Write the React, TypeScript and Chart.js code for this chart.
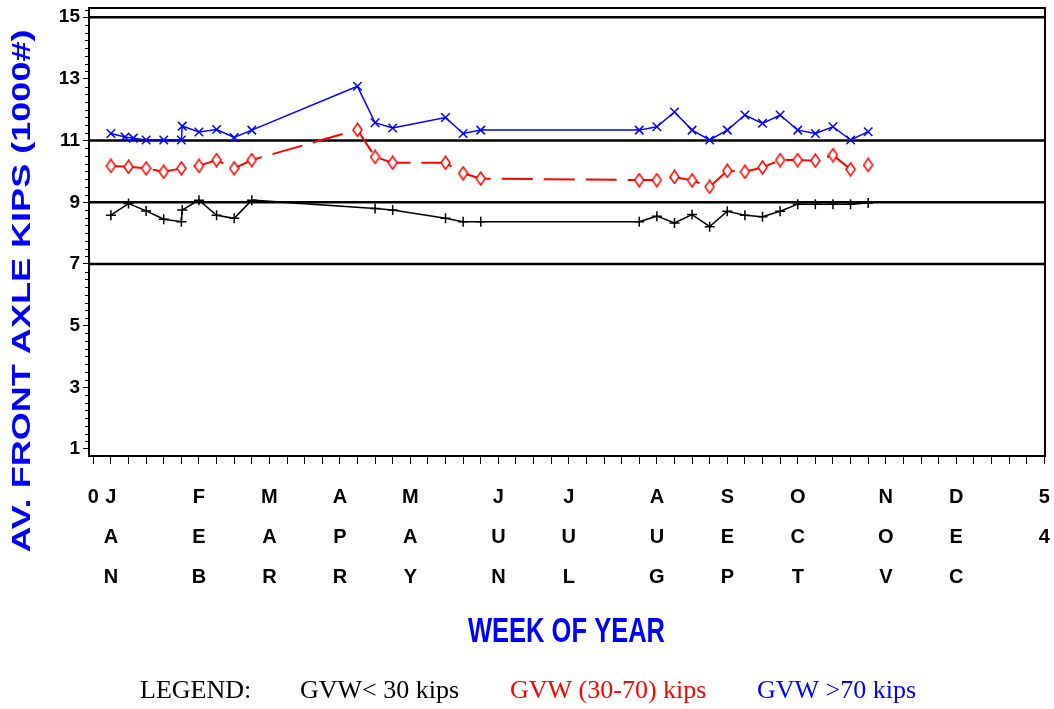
import React, { useEffect, useRef } from 'react';
import { Chart, registerables } from 'chart.js';

Chart.register(...registerables);

// ---- data (week of year, average front axle load in kips) ----
const blackWeeks = [1, 2, 3, 4, 5, 5.05, 6, 7, 8, 9, 16, 17, 20, 21, 22, 31, 32, 33, 34, 35, 36, 37, 38, 39, 40, 41, 42, 43, 44];
const blackValues = [8.58, 8.96, 8.72, 8.45, 8.37, 8.75, 9.07, 8.58, 8.48, 9.07, 8.8, 8.75, 8.48, 8.37, 8.37, 8.37, 8.55, 8.33, 8.6, 8.21, 8.71, 8.58, 8.53, 8.71, 8.94, 8.94, 8.94, 8.94, 8.98];

const redWeeks = [1, 2, 3, 4, 5, 6, 7, 8, 9, 15, 16, 17, 20, 21, 22, 31, 32, 33, 34, 35, 36, 37, 38, 39, 40, 41, 42, 43, 44];
const redValues = [10.18, 10.15, 10.1, 9.99, 10.1, 10.18, 10.37, 10.1, 10.37, 11.35, 10.47, 10.28, 10.28, 9.94, 9.77, 9.72, 9.72, 9.82, 9.71, 9.5, 10.02, 9.99, 10.13, 10.37, 10.37, 10.35, 10.53, 10.07, 10.21];

const blueWeeks = [1, 1.8, 2.27, 3, 4, 5, 5.05, 6, 7, 8, 9, 15, 16, 17, 20, 21, 22, 31, 32, 33, 34, 35, 36, 37, 38, 39, 40, 41, 42, 43, 44];
const blueValues = [11.23, 11.12, 11.08, 11.02, 11.02, 11.02, 11.47, 11.28, 11.36, 11.1, 11.34, 12.76, 11.58, 11.41, 11.75, 11.23, 11.34, 11.34, 11.45, 11.93, 11.34, 11.02, 11.34, 11.83, 11.56, 11.83, 11.34, 11.23, 11.45, 11.02, 11.29];

const seriesNames = ['GVW< 30 kips', 'GVW (30-70) kips', 'GVW >70 kips'];
const refLineValues = [7, 9, 11, 15];
const yLabelValues = [1, 3, 5, 7, 9, 11, 13, 15];
const monthWeeks = [1, 6, 10, 14, 18, 23, 27, 32, 36, 40, 45, 49];
const monthLabels = ['JAN', 'FEB', 'MAR', 'APR', 'MAY', 'JUN', 'JUL', 'AUG', 'SEP', 'OCT', 'NOV', 'DEC'];
const firstWeek = 0;
const lastWeek = 54;
const yTitle = 'AV. FRONT AXLE KIPS (1000#)';
const xTitle = 'WEEK OF YEAR';
const legendTitle = 'LEGEND:';

const toPoints = (w: number[], v: number[]) => w.map((x, i) => ({ x, y: v[i] }));

function diamondMarker(color: string) {
  const c = document.createElement('canvas');
  c.width = 11;
  c.height = 15;
  const g = c.getContext('2d')!;
  g.beginPath();
  g.moveTo(5.5, 1);
  g.lineTo(10, 7.5);
  g.lineTo(5.5, 14);
  g.lineTo(1, 7.5);
  g.closePath();
  g.fillStyle = '#fff';
  g.fill();
  g.strokeStyle = color;
  g.lineWidth = 1.5;
  g.stroke();
  return c;
}

function drawFitted(ctx: CanvasRenderingContext2D, text: string, cx: number, cy: number, size: number, target: number, color: string, rotate: boolean) {
  ctx.save();
  ctx.translate(cx, cy);
  if (rotate) ctx.rotate(-Math.PI / 2);
  ctx.font = `bold ${size}px "Liberation Sans", Arial, sans-serif`;
  const w = ctx.measureText(text).width;
  ctx.scale(target / w, 1);
  ctx.textAlign = 'center';
  ctx.textBaseline = 'alphabetic';
  ctx.fillStyle = color;
  ctx.fillText(text, 0, size * 0.716 / 2);
  ctx.restore();
}

const decorPlugin = {
  id: 'decor',
  beforeDatasetsDraw(chart: any) {
    const { ctx, chartArea: a, scales } = chart;
    const y = scales.y;
    ctx.save();
    ctx.strokeStyle = '#000';
    ctx.lineWidth = 2.5;
    refLineValues.forEach((v) => {
      const py = y.getPixelForValue(v);
      ctx.beginPath();
      ctx.moveTo(a.left, py);
      ctx.lineTo(a.right, py);
      ctx.stroke();
    });
    ctx.restore();
  },
  afterDraw(chart: any) {
    const { ctx, chartArea: a, scales } = chart;
    const y = scales.y;
    ctx.save();
    ctx.strokeStyle = '#000';
    ctx.lineWidth = 2;
    ctx.strokeRect(a.left, a.top, a.right - a.left, a.bottom - a.top);
    ctx.lineWidth = 1;
    y.ticks.forEach((t: any) => {
      if (yLabelValues.includes(t.value)) return;
      const py = Math.round(y.getPixelForValue(t.value)) + 0.5;
      ctx.beginPath();
      ctx.moveTo(a.left - 4, py);
      ctx.lineTo(a.left, py);
      ctx.stroke();
    });
    ctx.restore();

    drawFitted(ctx, yTitle, 21.5, 291, 25, 523, '#0000ff', true);
    drawFitted(ctx, xTitle, 566.5, 629.5, 35, 197, '#0000ff', false);

    ctx.save();
    ctx.font = '26px "Liberation Serif", "Times New Roman", serif';
    ctx.textBaseline = 'alphabetic';
    ctx.textAlign = 'left';
    ctx.fillStyle = '#000';
    ctx.fillText(legendTitle, 140, 698);
    const colors = ['#000000', '#ff0000', '#0000ff'];
    const xs = [300, 510, 757];
    seriesNames.forEach((n, i) => {
      ctx.fillStyle = colors[i];
      ctx.fillText(n, xs[i], 698);
    });
    ctx.restore();
  },
};

export default function App() {
  const ref = useRef<HTMLCanvasElement | null>(null);
  useEffect(() => {
    if (!ref.current) return;
    const diamond = diamondMarker('#ff0000');
    const chart = new Chart(ref.current, {
      type: 'line',
      data: {
        datasets: [
          {
            label: seriesNames[0],
            data: toPoints(blackWeeks, blackValues),
            borderColor: '#000000',
            borderWidth: 1.5,
            pointStyle: 'cross',
            pointRadius: 5,
            pointBorderColor: '#000000',
            pointBorderWidth: 1.5,
            tension: 0,
          },
          {
            label: seriesNames[1],
            data: toPoints(redWeeks, redValues),
            borderColor: '#ff0000',
            borderWidth: 2,
            borderDash: [31, 11],
            pointStyle: diamond as any,
            pointRadius: 6,
            tension: 0,
          },
          {
            label: seriesNames[2],
            data: toPoints(blueWeeks, blueValues),
            borderColor: '#0000ff',
            borderWidth: 1.5,
            pointStyle: 'crossRot',
            pointRadius: 6,
            pointBorderColor: '#0000ff',
            pointBorderWidth: 1.5,
            tension: 0,
          },
        ],
      },
      options: {
        animation: false,
        responsive: false,
        layout: { padding: { top: 8, right: 9, left: 0, bottom: 0 } },
        plugins: { legend: { display: false }, tooltip: { enabled: false } },
        scales: {
          x: {
            type: 'linear',
            min: -0.244,
            max: 54.04,
            afterBuildTicks: (s: any) => {
              const t = [];
              for (let w = firstWeek; w <= lastWeek; w++) t.push({ value: w });
              s.ticks = t;
            },
            afterFit: (s: any) => {
              s.height = 253;
              s.paddingLeft = 0;
              s.paddingRight = 0;
            },
            ticks: {
              autoSkip: false,
              maxRotation: 0,
              minRotation: 0,
              padding: 13,
              color: '#000',
              font: { family: '"Liberation Sans", Arial, sans-serif', size: 20, weight: 'bold', lineHeight: '40px' },
              callback: (v: any) => {
                if (v === firstWeek || v === lastWeek) return String(v).split('');
                const i = monthWeeks.indexOf(v);
                return i >= 0 ? monthLabels[i].split('') : '';
              },
            },
            grid: { drawOnChartArea: false, tickLength: 8, tickColor: '#000', tickWidth: 1 },
            border: { color: '#000', width: 2 },
          },
          y: {
            type: 'linear',
            min: 0.773,
            max: 15.3,
            afterBuildTicks: (s: any) => {
              const t = [];
              for (let k = 4; k <= 61; k++) t.push({ value: k / 4 });
              s.ticks = t;
            },
            afterFit: (s: any) => {
              s.width = 89;
              s.paddingTop = 0;
              s.paddingBottom = 0;
            },
            ticks: {
              autoSkip: false,
              padding: 3,
              color: '#000',
              font: { family: '"Liberation Sans", Arial, sans-serif', size: 19, weight: 'bold' },
              callback: (v: any) => (yLabelValues.includes(v) ? String(v) : ''),
            },
            grid: {
              drawOnChartArea: false,
              tickLength: 6,
              tickWidth: 1,
              tickColor: (c: any) => (c.tick && yLabelValues.includes(c.tick.value) ? '#000' : 'rgba(0,0,0,0)'),
            },
            border: { color: '#000', width: 2 },
          },
        },
      },
      plugins: [decorPlugin],
    } as any);
    return () => chart.destroy();
  }, []);
  return (
    <div style={{ position: 'fixed', left: 0, top: 0, width: 1054, height: 709, background: '#fff' }}>
      <canvas ref={ref} width={1054} height={709} style={{ display: 'block' }} />
    </div>
  );
}
